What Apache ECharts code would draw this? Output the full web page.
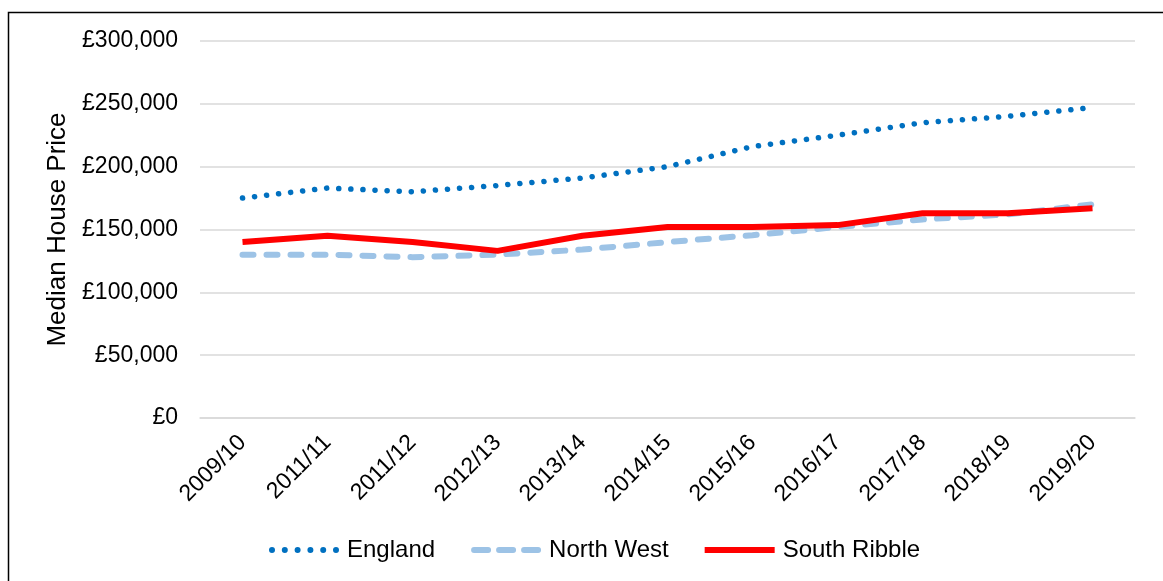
<!DOCTYPE html>
<html><head><meta charset="utf-8">
<script src="https://cdn.jsdelivr.net/npm/echarts@6/dist/echarts.min.js"></script>
<style>html,body{margin:0;padding:0;background:#fff}#c{width:1163px;height:581px}</style>
</head><body><div id="c"></div>
<script>
const categories = ['2009/10','2011/11','2011/12','2012/13','2013/14','2014/15','2015/16','2016/17','2017/18','2018/19','2019/20'];
const england = [175000,183000,180000,185000,191000,200000,216000,225000,235000,240000,247000];
const northWest = [130000,130000,128000,130000,134000,140000,145500,152000,158000,162000,170000];
const southRibble = [140000,145000,140000,133000,145000,152000,152000,153500,163000,163000,167000];

function fmt(v){ return '£' + String(v).replace(/\B(?=(\d{3})+(?!\d))/g, ','); }

const dotIcon = 'path://' + [3,15.8,28.6,41.4,54.2,67].map(c => 'M' + (c-3) + ',3a3,3 0 1,0 6,0a3,3 0 1,0 -6,0Z').join('');
const dashIcon = 'path://' + [0,25,50].map(s => 'M' + (s+3) + ',0H' + (s+17) + 'A3,3 0 0 1 ' + (s+17) + ',6H' + (s+3) + 'A3,3 0 0 1 ' + (s+3) + ',0Z').join('');
const solidIcon = 'path://M0,0H70V6H0Z';

const chart = echarts.init(document.getElementById('c'));
const font = 'Liberation Sans, Arial, sans-serif';
chart.setOption({
  animation:false,
  textStyle:{fontFamily:font},
  graphic:[{type:'rect',shape:{x:8.5,y:12.5,width:1200,height:700},style:{fill:'none',stroke:'#000',lineWidth:1.5},silent:true}],
  grid:{left:200,right:28,top:41,bottom:163},
  legend:{
    bottom:14,left:264,itemWidth:70,itemHeight:6,itemGap:36,
    textStyle:{fontSize:24,color:'#000',fontFamily:font,padding:[0,0,0,3]},
    data:[
      {name:'England',icon:dotIcon},
      {name:'North West',icon:dashIcon},
      {name:'South Ribble',icon:solidIcon}
    ]
  },
  xAxis:{
    type:'category',data:categories,boundaryGap:true,
    axisLine:{lineStyle:{color:'#D9D9D9',width:1.5}},
    axisTick:{show:false},
    axisLabel:{rotate:45,fontSize:23,color:'#000',fontFamily:font,margin:21,interval:0}
  },
  yAxis:{
    type:'value',min:0,max:300000,interval:50000,
    name:'Median House Price',nameLocation:'middle',nameGap:128,nameRotate:90,
    nameTextStyle:{fontSize:26,color:'#000',fontFamily:font},
    axisLine:{show:false},axisTick:{show:false},
    axisLabel:{formatter:fmt,fontSize:23,color:'#000',fontFamily:font,margin:22},
    splitLine:{lineStyle:{color:'#D9D9D9',width:1.5}}
  },
  series:[
    {name:'England',type:'line',data:england,showSymbol:false,symbol:'none',
     lineStyle:{color:'#0070C0',width:5.5,type:[0.1,12],cap:'round'},itemStyle:{color:'#0070C0'}},
    {name:'North West',type:'line',data:northWest,showSymbol:false,symbol:'none',
     lineStyle:{color:'#9DC3E6',width:6,type:[11,13],cap:'round'},itemStyle:{color:'#9DC3E6'}},
    {name:'South Ribble',type:'line',data:southRibble,showSymbol:false,symbol:'none',
     lineStyle:{color:'#FF0000',width:6,join:'round'},itemStyle:{color:'#FF0000'}}
  ]
});
</script></body></html>
